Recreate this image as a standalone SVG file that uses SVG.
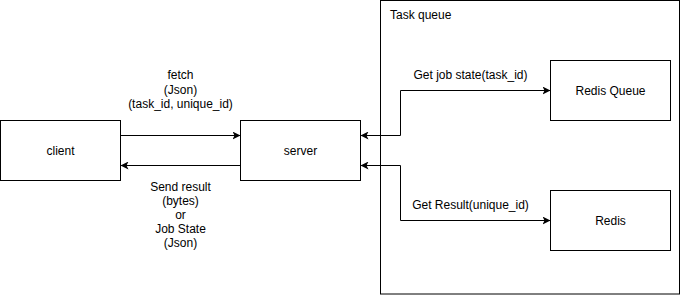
<svg xmlns="http://www.w3.org/2000/svg" width="681" height="295" viewBox="0 0 681 295">
  <style>
    .box { fill: #ffffff; stroke: #000000; stroke-width: 1; }
    .edge { fill: none; stroke: #000000; stroke-width: 1; }
    text { font-family: "Liberation Sans", Arial, Helvetica, sans-serif; font-size: 12px; fill: #000000; }
    .c { text-anchor: middle; dominant-baseline: central; }
  </style>
  <defs>
    <marker id="arrow" viewBox="0 0 8 8" refX="8" refY="4" markerWidth="8" markerHeight="8" markerUnits="userSpaceOnUse" orient="auto-start-reverse">
      <path d="M0,0 L8,4 L0,8 L2,4 Z" fill="#000000"/>
    </marker>
  </defs>
  <rect width="681" height="295" fill="#ffffff"/>

  <!-- container -->
  <g id="task-queue">
    <rect class="box" x="380.5" y="0.5" width="299" height="293.5"/>
    <text x="390" y="15" dominant-baseline="central">Task queue</text>
  </g>

  <g id="client">
    <rect class="box" x="0.5" y="120.5" width="120" height="60"/>
    <text class="c" x="60.5" y="150.5">client</text>
  </g>

  <g id="server">
    <rect class="box" x="240.5" y="120.5" width="120" height="60"/>
    <text class="c" x="300.5" y="150.5">server</text>
  </g>

  <g id="redis-queue">
    <rect class="box" x="550.5" y="60.5" width="120" height="60"/>
    <text class="c" x="610.5" y="90.5">Redis Queue</text>
  </g>

  <g id="redis">
    <rect class="box" x="550.5" y="190.5" width="120" height="60"/>
    <text class="c" x="610.5" y="220.5">Redis</text>
  </g>

  <g id="connectors">
    <path class="edge" d="M120.5,135.5 L240.5,135.5" marker-end="url(#arrow)"/>
    <path class="edge" d="M240.5,165.5 L120.5,165.5" marker-end="url(#arrow)"/>
    <path class="edge" d="M360.5,135.5 L400.5,135.5 L400.5,90.5 L550.5,90.5" marker-start="url(#arrow)" marker-end="url(#arrow)"/>
    <path class="edge" d="M360.5,165.5 L400.5,165.5 L400.5,220.5 L550.5,220.5" marker-start="url(#arrow)" marker-end="url(#arrow)"/>

    <text class="c" x="180.5" y="75">fetch</text>
    <text class="c" x="180.5" y="90">(Json)</text>
    <text class="c" x="180.5" y="104">(task_id, unique_id)</text>

    <text class="c" x="180.5" y="187">Send result</text>
    <text class="c" x="180.5" y="201">(bytes)</text>
    <text class="c" x="180.5" y="215">or</text>
    <text class="c" x="180.5" y="229">Job State</text>
    <text class="c" x="180.5" y="243">(Json)</text>

    <text class="c" x="470.5" y="75">Get job state(task_id)</text>
    <text class="c" x="470.5" y="205">Get Result(unique_id)</text>
  </g>
</svg>
